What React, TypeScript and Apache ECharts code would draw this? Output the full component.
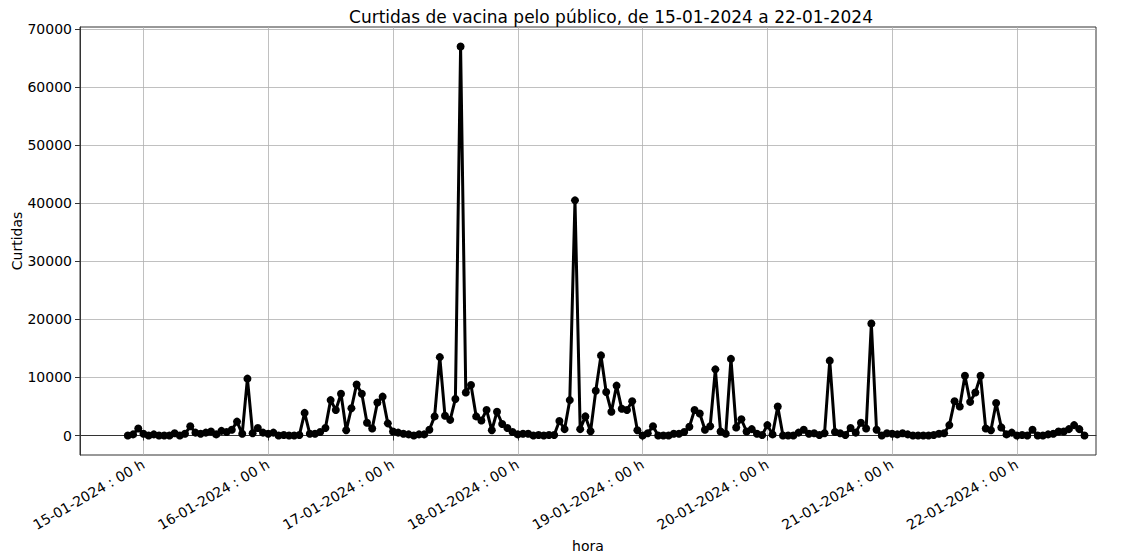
import React, { useEffect, useRef } from "react";
import * as echarts from "echarts";

// first sample: 14-01-2024 21:00, one sample per hour (hours counted from 14-01-2024 00:00)
const startHour = 21;

const curtidas = [
  // 14-01 21h..23h
  0, 200, 1200,
  // 15-01
  300, 0, 200, 0, 0, 0, 400, 0, 300, 1600, 500, 300, 500, 700, 200, 800, 600, 1000, 2400, 300, 9800, 400, 1300, 500,
  // 16-01
  300, 500, 0, 100, 0, 0, 100, 3900, 300, 300, 600, 1300, 6100, 4400, 7200, 900, 4700, 8800, 7200, 2200, 1200, 5700, 6700, 2100,
  // 17-01
  700, 500, 300, 200, 0, 200, 200, 1000, 3300, 13500, 3400, 2700, 6300, 67000, 7400, 8700, 3300, 2600, 4400, 900, 4100, 2000, 1300, 600,
  // 18-01
  200, 300, 300, 0, 100, 0, 100, 100, 2500, 1100, 6100, 40500, 1100, 3300, 750, 7700, 13800, 7500, 4100, 8600, 4600, 4400, 5900, 900,
  // 19-01
  0, 400, 1600, 0, 0, 0, 300, 300, 600, 1500, 4400, 3800, 1000, 1600, 11400, 700, 300, 13200, 1400, 2800, 700, 1100, 300, 100,
  // 20-01
  1800, 200, 5000, 0, 0, 0, 500, 1000, 300, 400, 100, 400, 12900, 600, 400, 100, 1300, 500, 2200, 1200, 19300, 1000, 0, 400,
  // 21-01
  300, 200, 400, 200, 0, 0, 0, 0, 100, 300, 400, 1800, 5900, 5000, 10300, 5800, 7400, 10300, 1200, 900, 5600, 1400, 200, 500,
  // 22-01 00h..13h
  0, 100, 0, 1000, 0, 0, 200, 300, 700, 700, 1100, 1800, 1100, 0,
];

const dayTicks = [24, 48, 72, 96, 120, 144, 168, 192];
const dayLabels = [
  "15-01-2024 : 00 h",
  "16-01-2024 : 00 h",
  "17-01-2024 : 00 h",
  "18-01-2024 : 00 h",
  "19-01-2024 : 00 h",
  "20-01-2024 : 00 h",
  "21-01-2024 : 00 h",
  "22-01-2024 : 00 h",
];
const yTicks = [0, 10000, 20000, 30000, 40000, 50000, 60000, 70000];

const FONT = "DejaVu Sans";

export default function App() {
  const ref = useRef<HTMLDivElement>(null);
  useEffect(() => {
    if (!ref.current) return;
    const chart = echarts.init(ref.current, undefined, { renderer: "svg" });
    const n = curtidas.length;
    const xMin = startHour - 0.05 * (n - 1);
    const xMax = startHour + (n - 1) * 1.012;
    chart.setOption({
      animation: false,
      backgroundColor: "#ffffff",
      title: {
        text: "Curtidas de vacina pelo público, de 15-01-2024 a 22-01-2024",
        left: 606,
        textAlign: "center",
        top: 3,
        textStyle: { fontFamily: FONT, fontSize: 17, fontWeight: "normal", color: "#000" },
      },
      grid: {
        left: 80,
        right: 28,
        top: 27,
        bottom: 99,
        containLabel: false,
        outerBoundsMode: "none",
        show: true,
        borderColor: "#333",
        borderWidth: 1,
      },
      xAxis: {
        type: "value",
        min: xMin,
        max: xMax,
        name: "hora",
        nameLocation: "middle",
        nameGap: 84,
        nameMoveOverlap: false,
        nameTextStyle: { fontFamily: FONT, fontSize: 14, color: "#000" },
        axisLine: { show: true, lineStyle: { color: "#333", width: 1 } },
        axisTick: {
          show: true,
          customValues: dayTicks,
          length: 5,
          lineStyle: { color: "#333" },
        },
        axisLabel: {
          customValues: dayTicks,
          rotate: 30,
          margin: 8,
          fontFamily: FONT,
          fontSize: 14,
          color: "#000",
          formatter: (v: number) => {
            const k = dayTicks.indexOf(Math.round(v));
            return k >= 0 ? dayLabels[k] : "";
          },
        },
        splitLine: { show: true, lineStyle: { color: "#b0b0b0", width: 0.8 } },
      },
      yAxis: {
        type: "value",
        min: -3350,
        max: 70350,
        name: "Curtidas",
        nameLocation: "middle",
        nameGap: 56,
        nameMoveOverlap: false,
        nameTextStyle: { fontFamily: FONT, fontSize: 14, color: "#000" },
        axisLine: { show: true, lineStyle: { color: "#333", width: 1 } },
        axisTick: {
          show: true,
          customValues: yTicks,
          length: 5,
          lineStyle: { color: "#333" },
        },
        axisLabel: {
          customValues: yTicks,
          margin: 8,
          fontFamily: FONT,
          fontSize: 14,
          color: "#000",
          formatter: (v: number) => String(v),
        },
        splitLine: { show: true, lineStyle: { color: "#b0b0b0", width: 0.8 } },
      },
      series: [
        {
          type: "line",
          data: curtidas.map((v, i) => [startHour + i, v]),
          symbol: "circle",
          symbolSize: 8,
          showAllSymbol: true,
          lineStyle: { color: "#000", width: 3 },
          itemStyle: { color: "#000" },
          emphasis: { disabled: true },
        },
      ],
    });
    return () => chart.dispose();
  }, []);
  return (
    <div
      ref={ref}
      style={{ position: "absolute", left: 0, top: 0, width: 1124, height: 554 }}
    />
  );
}
